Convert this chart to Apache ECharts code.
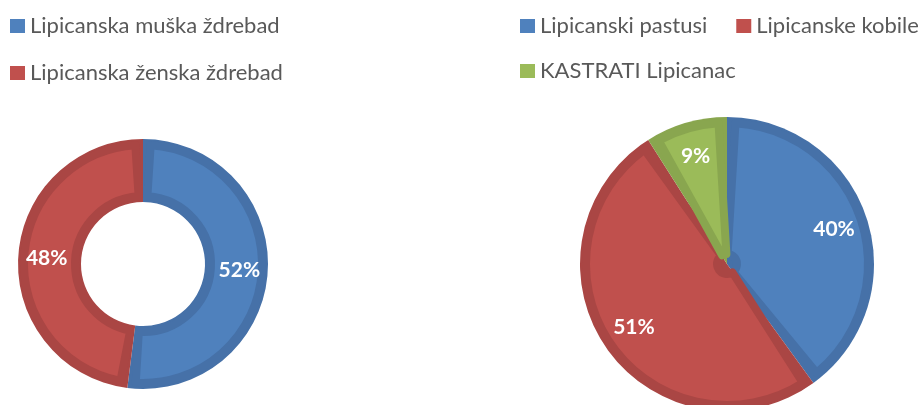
<!DOCTYPE html>
<html>
<head>
<meta charset="utf-8">
<script src="https://cdn.jsdelivr.net/npm/echarts@6/dist/echarts.min.js"></script>
<style>html,body{margin:0;padding:0;background:#fff}#c{width:920px;height:405px}</style>
</head>
<body>
<div id="c"></div>
<script>
const leftNames = ['Lipicanska muška ždrebad', 'Lipicanska ženska ždrebad'];
const leftValues = [52, 48];
const rightNames = ['Lipicanski pastusi', 'Lipicanske kobile', 'KASTRATI Lipicanac'];
const rightValues = [40, 51, 9];

const light = ['#4F81BD', '#C0504D', '#9BBB59'];
const dark = ['#4671A8', '#AA4644', '#89A64F'];

function mk(names, values, cols) {
  return names.map((n, i) => ({ name: n, value: values[i], itemStyle: { color: cols[i] } }));
}
function mkBordered(names, values) {
  return names.map((n, i) => ({ name: n, value: values[i],
    itemStyle: { color: light[i], borderColor: dark[i], borderWidth: 8, borderJoin: 'round' } }));
}
const font = 'Lato, "Open Sans", sans-serif';
const labelStyle = { show: true, position: 'inside', formatter: '{d}%', color: '#fff', fontFamily: font, fontWeight: 'bold', fontSize: 21 };
const legendBase = { icon: 'rect', itemWidth: 15, itemHeight: 14, padding: 0, textStyle: { color: '#595959', fontFamily: font, fontSize: 22, lineHeight: 20 }, itemStyle: { borderWidth: 0 }, selectedMode: false };

const chart = echarts.init(document.getElementById('c'), null, { renderer: 'canvas' });
chart.setOption({
  animation: false,
  legend: [
    Object.assign({}, legendBase, { left: 10, top: 15, orient: 'vertical', itemGap: 25,
      data: leftNames.map((n, i) => ({ name: n, itemStyle: { color: light[i], borderWidth: 0 } })) }),
    Object.assign({}, legendBase, { left: 520, top: 15, orient: 'horizontal', itemGap: 29,
      data: rightNames.slice(0, 2).map((n, i) => ({ name: n, itemStyle: { color: light[i], borderWidth: 0 } })) }),
    Object.assign({}, legendBase, { left: 520, top: 60, orient: 'horizontal',
      data: rightNames.slice(2).map((n, i) => ({ name: n, itemStyle: { color: light[i + 2], borderWidth: 0 } })) })
  ],
  series: [
    { type: 'pie', center: [143, 264], radius: [62, 125], startAngle: 90, clockwise: true, silent: true,
      label: { show: false }, labelLine: { show: false }, data: mk(leftNames, leftValues, dark) },
    { type: 'pie', center: [143, 264], radius: [68, 119], startAngle: 90, clockwise: true, silent: true, padAngle: 7.4,
      label: labelStyle, labelLine: { show: false }, data: mkBordered(leftNames, leftValues) },
    { type: 'pie', center: [727, 264], radius: [0, 147], startAngle: 90, clockwise: true, silent: true,
      label: { show: false }, labelLine: { show: false }, data: mk(rightNames, rightValues, dark) },
    { type: 'pie', center: [727, 264], radius: [10, 141], startAngle: 90, clockwise: true, silent: true, padAngle: 6.9,
      label: { show: false }, labelLine: { show: false }, data: mkBordered(rightNames, rightValues) },
    { type: 'pie', center: [727, 264], radius: [72, 147], startAngle: 90, clockwise: true, silent: true,
      itemStyle: { color: 'rgba(0,0,0,0)' },
      label: labelStyle, labelLine: { show: false },
      data: rightNames.map((n, i) => ({ name: n, value: rightValues[i], itemStyle: { color: 'rgba(0,0,0,0)' } })) }
  ]
});
</script>
</body>
</html>
